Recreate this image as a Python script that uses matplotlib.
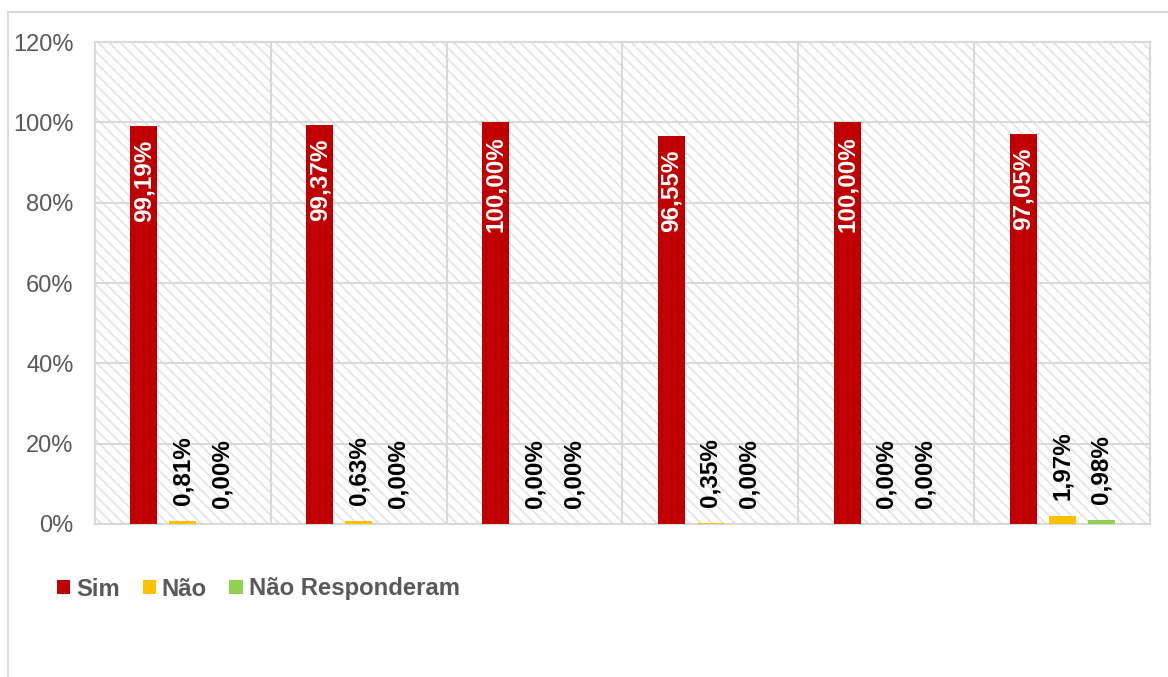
import numpy as np
import matplotlib
matplotlib.use("Agg")
import matplotlib.pyplot as plt
from matplotlib.patches import Rectangle
from matplotlib.ticker import FuncFormatter

plt.rcParams['font.family'] = ['Liberation Sans', 'DejaVu Sans']
plt.rcParams['hatch.linewidth'] = 1.2
plt.rcParams['hatch.color'] = '#e3e3e3'

# Data (percent)
groups = ["1", "2", "3", "4", "5", "6"]
series_names = ["Sim", "Não", "Não Responderam"]
sim = [99.19, 99.37, 100.00, 96.55, 100.00, 97.05]
nao = [0.81, 0.63, 0.00, 0.35, 0.00, 1.97]
nao_resp = [0.00, 0.00, 0.00, 0.00, 0.00, 0.98]
colors = ["#C00000", "#FFC000", "#92D050"]
y_ticks = [0, 20, 40, 60, 80, 100, 120]


def fmt_pt(v):
    return ("%.2f" % v).replace(".", ",") + "%"


fig = plt.figure(figsize=(11.68, 6.77), dpi=100)
ax = fig.add_axes([95 / 1168, 153 / 677, 1055 / 1168, 482 / 677])

# outer chart border
fig.patches.append(Rectangle((8 / 1168, -0.1), 1.2, (677 - 12) / 677 + 0.1,
                             transform=fig.transFigure, fill=False,
                             edgecolor='#d9d9d9', linewidth=1.5))

# hatched plot background
ax.add_patch(Rectangle((0, 0), 1, 1, transform=ax.transAxes, facecolor='white',
                       edgecolor='#e3e3e3', hatch='\\\\\\', linewidth=0, zorder=0.1))

x = np.arange(len(groups))
offset = 0.222
width = 0.154
all_series = [sim, nao, nao_resp]
for i, (vals, name, col) in enumerate(zip(all_series, series_names, colors)):
    pos = x + (i - 1) * offset
    ax.bar(pos, vals, width, color=col, label=name, zorder=3)
    for p, v in zip(pos, vals):
        if i == 0:
            ax.annotate(fmt_pt(v), (p, v), xytext=(0, -10), textcoords='offset points',
                        rotation=90, ha='center', va='top', color='white',
                        fontsize=17.5, fontweight='bold', zorder=4)
        else:
            ax.annotate(fmt_pt(v), (p, v), xytext=(0, 11.5), textcoords='offset points',
                        rotation=90, ha='center', va='bottom', color='black',
                        fontsize=17.5, fontweight='bold', zorder=4)

ax.set_xlim(-0.5, len(groups) - 0.5)
ax.set_ylim(0, 120)
ax.set_yticks(y_ticks)
ax.yaxis.set_major_formatter(FuncFormatter(lambda v, p: "%d%%" % v))
ax.set_xticks(np.arange(-0.5, len(groups), 1))
ax.set_xticklabels([])
ax.tick_params(axis='both', length=0, labelsize=17, labelcolor='#595959', pad=15.5)
ax.grid(True, color='#d9d9d9', linewidth=1.5, zorder=0.5)
ax.set_axisbelow(True)
for s in ax.spines.values():
    s.set_color('#d9d9d9')
    s.set_linewidth(1.5)

leg = fig.legend(loc='center left', bbox_to_anchor=(57 / 1168, 88 / 677), ncol=3,
                 frameon=False, fontsize=17.2, handlelength=0.55, handleheight=0.55,
                 handletextpad=0.25, columnspacing=0.95, borderpad=0, borderaxespad=0)
for t in leg.get_texts():
    t.set_color('#595959')
    t.set_fontweight('bold')

fig.savefig("out.png", dpi=100)
